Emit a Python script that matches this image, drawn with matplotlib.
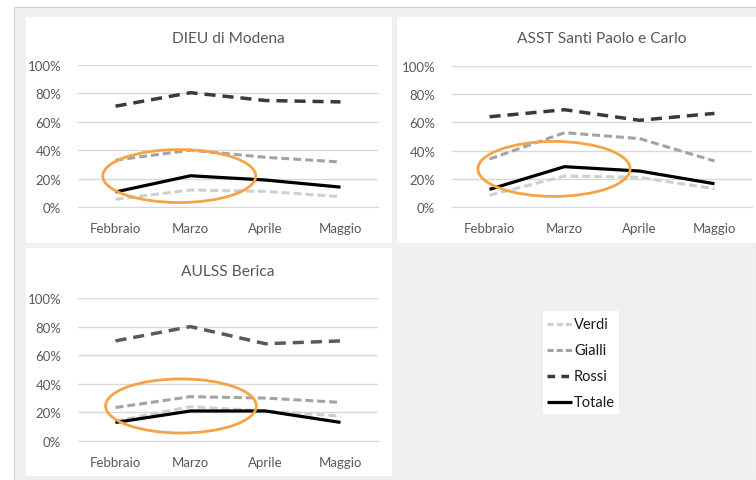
import matplotlib
matplotlib.use("Agg")
import matplotlib.pyplot as plt
from matplotlib.patches import Rectangle, Ellipse
from matplotlib.lines import Line2D
from matplotlib.ticker import FuncFormatter

plt.rcParams['font.family'] = ['Lato', 'DejaVu Sans']

W, H = 756, 481

months = ["Febbraio", "Marzo", "Aprile", "Maggio"]
titles = ["DIEU di Modena", "ASST Santi Paolo e Carlo", "AULSS Berica"]

verdi = [[0.054, 0.12, 0.11, 0.073],
         [0.083, 0.22, 0.21, 0.13],
         [0.14, 0.24, 0.21, 0.175]]
gialli = [[0.33, 0.40, 0.35, 0.317],
          [0.34, 0.527, 0.485, 0.326],
          [0.234, 0.31, 0.30, 0.27]]
rossi = [[0.71, 0.805, 0.75, 0.74],
         [0.64, 0.69, 0.615, 0.664],
         [0.70, 0.80, 0.68, 0.70]]
totale = [[0.106, 0.22, 0.19, 0.14],
          [0.125, 0.286, 0.255, 0.165],
          [0.13, 0.21, 0.21, 0.13]]

# highlight ellipse (center x, center y, width, height) in data units
highlights = [(0.85, 0.218, 2.04, 0.373),
              (0.86, 0.27, 2.03, 0.39),
              (0.873, 0.245, 2.01, 0.378)]

series_names = ["Verdi", "Gialli", "Rossi", "Totale"]
styles = {
    "Verdi": dict(color="#cfcfcf", lw=2.2, dashes=(2.6, 1.3)),
    "Gialli": dict(color="#a3a3a3", lw=2.2, dashes=(2.6, 1.3)),
    "Rossi": dict(color="#3a3a3a", lw=2.5, dashes=(3.2, 2.0)),
    "Totale": dict(color="#000000", lw=2.3, dashes=None),
}
legend_dashes = {"Verdi": (2.0, 1.0), "Gialli": (2.0, 1.0), "Rossi": (2.2, 1.8)}
rossi_colors = ["#3a3a3a", "#3a3a3a", "#5a5a5a"]

fig = plt.figure(figsize=(W / 100, H / 100), dpi=100)
fig.patch.set_facecolor("white")

def px_rect(x0, y0, x1, y1):
    return [x0 / W, 1 - y1 / H, (x1 - x0) / W, (y1 - y0) / H]

# gray canvas
bg = Rectangle((14 / W, 0), (W - 14) / W, 1 - 8 / H, transform=fig.transFigure,
               facecolor="#f0f0f0", edgecolor="#cfcfcf", lw=0.8, zorder=-3)
fig.patches.append(bg)
panels = [(26, 18, 392, 244), (397, 18, W, 244), (26, 249, 392, 477)]
for p in panels:
    r = px_rect(*p)
    fig.patches.append(Rectangle((r[0], r[1]), r[2], r[3], transform=fig.transFigure,
                                 facecolor="white", edgecolor="none", zorder=-2))

axes_px = [(78, 66, 378, 208), (452, 67, 752, 208), (78, 299, 378, 442)]
title_y = [39, 39, 272]

for i, box in enumerate(axes_px):
    ax = fig.add_axes(px_rect(*box))
    ax.set_facecolor("none")
    x = list(range(len(months)))
    data = {"Verdi": verdi[i], "Gialli": gialli[i], "Rossi": rossi[i], "Totale": totale[i]}
    for name in series_names:
        st = styles[name]
        col = rossi_colors[i] if name == "Rossi" else st["color"]
        ln, = ax.plot(x, data[name], color=col, lw=st["lw"], solid_capstyle="butt",
                      dash_capstyle="butt", zorder=3, clip_on=False)
        if st["dashes"]:
            ln.set_dashes(st["dashes"])
    cx, cy, ew, eh = highlights[i]
    ax.add_patch(Ellipse((cx, cy), ew, eh, fill=False, edgecolor="#f5a445", lw=2.0,
                         zorder=4, clip_on=False))
    ax.set_xlim(-0.5, 3.5)
    ax.set_ylim(0, 1)
    ax.set_yticks([0, 0.2, 0.4, 0.6, 0.8, 1.0])
    ax.yaxis.set_major_formatter(FuncFormatter(lambda v, p: f"{v*100:.0f}%"))
    ax.set_xticks(x)
    ax.set_xticklabels(months)
    ax.grid(axis="y", color="#d9d9d9", lw=1)
    ax.set_axisbelow(True)
    for s in ["top", "right", "left"]:
        ax.spines[s].set_visible(False)
    ax.spines["bottom"].set_color("#d9d9d9")
    ax.tick_params(axis="both", length=0, labelcolor="#595959", labelsize=9.5)
    ax.tick_params(axis="x", pad=11)
    ax.tick_params(axis="y", pad=12)
    cxp = (box[0] + box[2]) / 2
    fig.text(cxp / W, 1 - title_y[i] / H, titles[i], ha="center", va="center",
             fontsize=11.2, color="#595959")

# legend
lr = px_rect(543, 312, 619, 415)
fig.patches.append(Rectangle((lr[0], lr[1]), lr[2], lr[3], transform=fig.transFigure,
                             facecolor="white", edgecolor="none", zorder=-1))
leg_y = [325, 351, 377, 403]
for name, yy in zip(series_names, leg_y):
    st = styles[name]
    ln = Line2D([547 / W, 572 / W], [1 - yy / H, 1 - yy / H], transform=fig.transFigure,
                color=st["color"], lw=st["lw"], solid_capstyle="butt", dash_capstyle="butt",
                zorder=2)
    if name in legend_dashes:
        ln.set_dashes(legend_dashes[name])
    fig.lines.append(ln)
    fig.text(574 / W, 1 - yy / H, name, ha="left", va="center", fontsize=10.5,
             color="#1a1a1a", zorder=3)

fig.savefig("out.png", dpi=100)
